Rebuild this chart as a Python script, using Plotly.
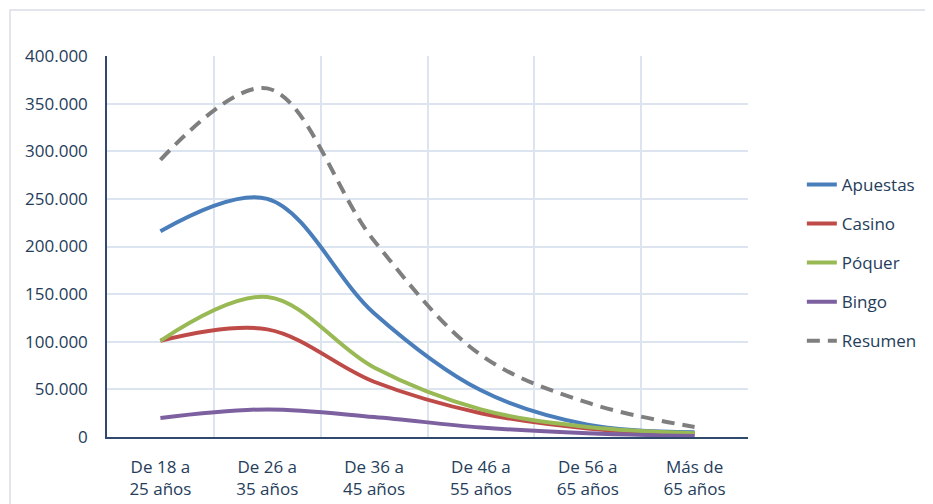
import plotly.graph_objects as go

# categorías de edad (eje X)
age_groups = ["De 18 a<br>25 años", "De 26 a<br>35 años", "De 36 a<br>45 años",
              "De 46 a<br>55 años", "De 56 a<br>65 años", "Más de<br>65 años"]

# valores
apuestas = [216000, 250000, 130000, 49000, 13000, 5000]
casino = [101000, 113000, 58000, 25000, 9000, 3000]
poquer = [101000, 147000, 73000, 29000, 10500, 4000]
bingo = [20000, 29000, 21000, 10000, 4000, 1000]
resumen = [291000, 366000, 206000, 86000, 36000, 10500]

series = [
    ("Apuestas", apuestas, "#4A7EBB", "solid"),
    ("Casino", casino, "#BE4B48", "solid"),
    ("Póquer", poquer, "#98B954", "solid"),
    ("Bingo", bingo, "#7D60A0", "solid"),
    ("Resumen", resumen, "#7F7F7F", "13px,8px"),
]

fig = go.Figure()
for name, vals, color, dash in series:
    fig.add_trace(go.Scatter(
        x=age_groups, y=vals, name=name, mode="lines",
        line=dict(color=color, width=4, dash=dash, shape="spline", smoothing=1.0),
        legendgroup=name,
    ))

text_color = "#253D5B"
grid_color = "#DCE4F0"

# la página tiene 8px de margen en el body: se compensa en los márgenes
fig.update_layout(
    width=933, height=504,
    margin=dict(l=99, r=193, t=48, b=75, autoexpand=False),
    paper_bgcolor="white", plot_bgcolor="white",
    font=dict(family="Open Sans, Noto Sans, sans-serif", size=17, color=text_color),
    separators=",.",
    showlegend=True,
    legend=dict(
        x=1.084, y=0.709, xanchor="left", yanchor="top",
        font=dict(size=17, color=text_color),
        tracegroupgap=14, traceorder="grouped",
        bgcolor="rgba(0,0,0,0)",
    ),
    xaxis=dict(
        type="category", tickson="boundaries", ticks="",
        range=[-0.5, 5.5], automargin=False,
        showgrid=True, gridcolor=grid_color, gridwidth=1.5,
        showline=True, linecolor="#2F4A6D", linewidth=1.5,
        ticklabelstandoff=14, tickfont=dict(size=17),
    ),
    yaxis=dict(
        range=[0, 400000], tickvals=[0, 50000, 100000, 150000, 200000, 250000, 300000, 350000, 400000],
        tickformat=",d", automargin=False,
        showgrid=True, gridcolor=grid_color, gridwidth=1.5,
        showline=True, linecolor="#2F4A6D", linewidth=1.5,
        zeroline=False, ticks="", ticklabelstandoff=14,
        tickfont=dict(size=17),
    ),
    shapes=[dict(
        type="rect", xref="paper", yref="paper",
        x0=(10 - 107) / 641, x1=(945 - 107) / 641,
        y0=(437 - 515) / 381, y1=(437 - 10) / 381,
        line=dict(color="#D9DEE6", width=1.5), layer="below",
    )],
)

fig.write_html("out.html")
